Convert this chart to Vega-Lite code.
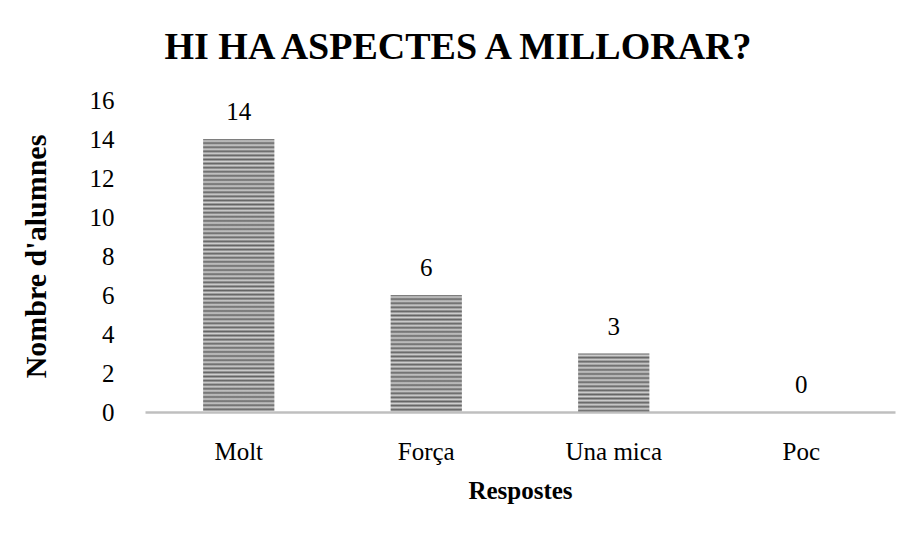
{
  "$schema": "https://vega.github.io/schema/vega-lite/v6.json",
  "width": 750,
  "height": 312,
  "autosize": {"type": "none"},
  "padding": {"left": 145, "top": 100, "right": 20, "bottom": 127},
  "background": "white",
  "config": {
    "view": {"stroke": null},
    "font": "Liberation Serif"
  },
  "title": {
    "text": "HI HA ASPECTES A MILLORAR?",
    "font": "Liberation Serif",
    "fontSize": 38,
    "fontWeight": "bold",
    "color": "#000000",
    "anchor": "middle",
    "frame": "bounds",
    "offset": 21
  },
  "data": {
    "values": [
      {"resposta": "Molt", "alumnes": 14},
      {"resposta": "Força", "alumnes": 6},
      {"resposta": "Una mica", "alumnes": 3},
      {"resposta": "Poc", "alumnes": 0}
    ]
  },
  "encoding": {
    "x": {
      "field": "resposta",
      "type": "nominal",
      "sort": null,
      "scale": {"paddingInner": 0.62, "paddingOuter": 0.31},
      "axis": {
        "title": "Respostes",
        "titleFont": "Liberation Serif",
        "titleFontSize": 25,
        "titleFontWeight": "bold",
        "titleColor": "#000000",
        "titlePadding": 14,
        "labelAngle": 0,
        "labelFontSize": 25,
        "labelColor": "#000000",
        "labelPadding": 27,
        "ticks": false,
        "domainColor": "#bfbfbf",
        "domainWidth": 2.5
      }
    },
    "y": {
      "field": "alumnes",
      "type": "quantitative",
      "scale": {"domain": [0, 16]},
      "axis": {
        "title": "Nombre d'alumnes",
        "titleFont": "Liberation Serif",
        "titleFontSize": 30,
        "titleFontWeight": "bold",
        "titleColor": "#000000",
        "titlePadding": 38,
        "values": [0, 2, 4, 6, 8, 10, 12, 14, 16],
        "labelFontSize": 25,
        "labelColor": "#000000",
        "labelPadding": 31,
        "ticks": false,
        "domain": false,
        "grid": false
      }
    }
  },
  "layer": [
    {
      "transform": [{"filter": "datum.resposta === 'Molt'"}],
      "mark": {
        "type": "bar",
        "fill": {
          "gradient": "linear",
          "x1": 0, "y1": 0, "x2": 0, "y2": 1,
          "stops": [
            {"offset": 0, "color": "#646464"}, {"offset": 0.0075, "color": "#cfcfcf"}, {"offset": 0.015, "color": "#646464"}, {"offset": 0.0225, "color": "#cfcfcf"},
            {"offset": 0.03, "color": "#646464"}, {"offset": 0.0375, "color": "#cfcfcf"}, {"offset": 0.045, "color": "#646464"}, {"offset": 0.0525, "color": "#cfcfcf"},
            {"offset": 0.06, "color": "#646464"}, {"offset": 0.0675, "color": "#cfcfcf"}, {"offset": 0.075, "color": "#646464"}, {"offset": 0.0825, "color": "#cfcfcf"},
            {"offset": 0.09, "color": "#646464"}, {"offset": 0.0975, "color": "#cfcfcf"}, {"offset": 0.105, "color": "#646464"}, {"offset": 0.1125, "color": "#cfcfcf"},
            {"offset": 0.12, "color": "#646464"}, {"offset": 0.1275, "color": "#cfcfcf"}, {"offset": 0.135, "color": "#646464"}, {"offset": 0.1425, "color": "#cfcfcf"},
            {"offset": 0.15, "color": "#646464"}, {"offset": 0.1575, "color": "#cfcfcf"}, {"offset": 0.165, "color": "#646464"}, {"offset": 0.1725, "color": "#cfcfcf"},
            {"offset": 0.18, "color": "#646464"}, {"offset": 0.1875, "color": "#cfcfcf"}, {"offset": 0.195, "color": "#646464"}, {"offset": 0.2025, "color": "#cfcfcf"},
            {"offset": 0.21, "color": "#646464"}, {"offset": 0.2175, "color": "#cfcfcf"}, {"offset": 0.225, "color": "#646464"}, {"offset": 0.2325, "color": "#cfcfcf"},
            {"offset": 0.24, "color": "#646464"}, {"offset": 0.2475, "color": "#cfcfcf"}, {"offset": 0.255, "color": "#646464"}, {"offset": 0.2625, "color": "#cfcfcf"},
            {"offset": 0.27, "color": "#646464"}, {"offset": 0.2775, "color": "#cfcfcf"}, {"offset": 0.285, "color": "#646464"}, {"offset": 0.2925, "color": "#cfcfcf"},
            {"offset": 0.3, "color": "#646464"}, {"offset": 0.3075, "color": "#cfcfcf"}, {"offset": 0.315, "color": "#646464"}, {"offset": 0.3225, "color": "#cfcfcf"},
            {"offset": 0.33, "color": "#646464"}, {"offset": 0.3375, "color": "#cfcfcf"}, {"offset": 0.345, "color": "#646464"}, {"offset": 0.3525, "color": "#cfcfcf"},
            {"offset": 0.36, "color": "#646464"}, {"offset": 0.3675, "color": "#cfcfcf"}, {"offset": 0.375, "color": "#646464"}, {"offset": 0.3825, "color": "#cfcfcf"},
            {"offset": 0.39, "color": "#646464"}, {"offset": 0.3975, "color": "#cfcfcf"}, {"offset": 0.405, "color": "#646464"}, {"offset": 0.4125, "color": "#cfcfcf"},
            {"offset": 0.42, "color": "#646464"}, {"offset": 0.4275, "color": "#cfcfcf"}, {"offset": 0.435, "color": "#646464"}, {"offset": 0.4425, "color": "#cfcfcf"},
            {"offset": 0.45, "color": "#646464"}, {"offset": 0.4575, "color": "#cfcfcf"}, {"offset": 0.465, "color": "#646464"}, {"offset": 0.4725, "color": "#cfcfcf"},
            {"offset": 0.48, "color": "#646464"}, {"offset": 0.4875, "color": "#cfcfcf"}, {"offset": 0.495, "color": "#646464"}, {"offset": 0.5025, "color": "#cfcfcf"},
            {"offset": 0.51, "color": "#646464"}, {"offset": 0.5175, "color": "#cfcfcf"}, {"offset": 0.525, "color": "#646464"}, {"offset": 0.5325, "color": "#cfcfcf"},
            {"offset": 0.54, "color": "#646464"}, {"offset": 0.5475, "color": "#cfcfcf"}, {"offset": 0.555, "color": "#646464"}, {"offset": 0.5625, "color": "#cfcfcf"},
            {"offset": 0.57, "color": "#646464"}, {"offset": 0.5775, "color": "#cfcfcf"}, {"offset": 0.585, "color": "#646464"}, {"offset": 0.5925, "color": "#cfcfcf"},
            {"offset": 0.6, "color": "#646464"}, {"offset": 0.6075, "color": "#cfcfcf"}, {"offset": 0.615, "color": "#646464"}, {"offset": 0.6225, "color": "#cfcfcf"},
            {"offset": 0.63, "color": "#646464"}, {"offset": 0.6375, "color": "#cfcfcf"}, {"offset": 0.645, "color": "#646464"}, {"offset": 0.6525, "color": "#cfcfcf"},
            {"offset": 0.66, "color": "#646464"}, {"offset": 0.6675, "color": "#cfcfcf"}, {"offset": 0.675, "color": "#646464"}, {"offset": 0.6825, "color": "#cfcfcf"},
            {"offset": 0.69, "color": "#646464"}, {"offset": 0.6975, "color": "#cfcfcf"}, {"offset": 0.705, "color": "#646464"}, {"offset": 0.7125, "color": "#cfcfcf"},
            {"offset": 0.72, "color": "#646464"}, {"offset": 0.7275, "color": "#cfcfcf"}, {"offset": 0.735, "color": "#646464"}, {"offset": 0.7425, "color": "#cfcfcf"},
            {"offset": 0.75, "color": "#646464"}, {"offset": 0.7575, "color": "#cfcfcf"}, {"offset": 0.765, "color": "#646464"}, {"offset": 0.7725, "color": "#cfcfcf"},
            {"offset": 0.78, "color": "#646464"}, {"offset": 0.7875, "color": "#cfcfcf"}, {"offset": 0.795, "color": "#646464"}, {"offset": 0.8025, "color": "#cfcfcf"},
            {"offset": 0.81, "color": "#646464"}, {"offset": 0.8175, "color": "#cfcfcf"}, {"offset": 0.825, "color": "#646464"}, {"offset": 0.8325, "color": "#cfcfcf"},
            {"offset": 0.84, "color": "#646464"}, {"offset": 0.8475, "color": "#cfcfcf"}, {"offset": 0.855, "color": "#646464"}, {"offset": 0.8625, "color": "#cfcfcf"},
            {"offset": 0.87, "color": "#646464"}, {"offset": 0.8775, "color": "#cfcfcf"}, {"offset": 0.885, "color": "#646464"}, {"offset": 0.8925, "color": "#cfcfcf"},
            {"offset": 0.9, "color": "#646464"}, {"offset": 0.9075, "color": "#cfcfcf"}, {"offset": 0.915, "color": "#646464"}, {"offset": 0.9225, "color": "#cfcfcf"},
            {"offset": 0.93, "color": "#646464"}, {"offset": 0.9375, "color": "#cfcfcf"}, {"offset": 0.945, "color": "#646464"}, {"offset": 0.9525, "color": "#cfcfcf"},
            {"offset": 0.96, "color": "#646464"}, {"offset": 0.9675, "color": "#cfcfcf"}, {"offset": 0.975, "color": "#646464"}, {"offset": 0.9825, "color": "#cfcfcf"},
            {"offset": 0.99, "color": "#646464"}, {"offset": 0.9975, "color": "#cfcfcf"}, {"offset": 1, "color": "#cfcfcf"}
          ]
        }
      }
    },
    {
      "transform": [{"filter": "datum.resposta === 'Força'"}],
      "mark": {
        "type": "bar",
        "fill": {
          "gradient": "linear",
          "x1": 0, "y1": 0, "x2": 0, "y2": 1,
          "stops": [
            {"offset": 0, "color": "#646464"}, {"offset": 0.0175, "color": "#cfcfcf"}, {"offset": 0.035, "color": "#646464"}, {"offset": 0.0525, "color": "#cfcfcf"},
            {"offset": 0.07, "color": "#646464"}, {"offset": 0.0875, "color": "#cfcfcf"}, {"offset": 0.105, "color": "#646464"}, {"offset": 0.1225, "color": "#cfcfcf"},
            {"offset": 0.14, "color": "#646464"}, {"offset": 0.1575, "color": "#cfcfcf"}, {"offset": 0.175, "color": "#646464"}, {"offset": 0.1925, "color": "#cfcfcf"},
            {"offset": 0.21, "color": "#646464"}, {"offset": 0.2275, "color": "#cfcfcf"}, {"offset": 0.245, "color": "#646464"}, {"offset": 0.2625, "color": "#cfcfcf"},
            {"offset": 0.28, "color": "#646464"}, {"offset": 0.2975, "color": "#cfcfcf"}, {"offset": 0.315, "color": "#646464"}, {"offset": 0.3325, "color": "#cfcfcf"},
            {"offset": 0.35, "color": "#646464"}, {"offset": 0.3675, "color": "#cfcfcf"}, {"offset": 0.385, "color": "#646464"}, {"offset": 0.4025, "color": "#cfcfcf"},
            {"offset": 0.42, "color": "#646464"}, {"offset": 0.4375, "color": "#cfcfcf"}, {"offset": 0.455, "color": "#646464"}, {"offset": 0.4725, "color": "#cfcfcf"},
            {"offset": 0.49, "color": "#646464"}, {"offset": 0.5075, "color": "#cfcfcf"}, {"offset": 0.525, "color": "#646464"}, {"offset": 0.5425, "color": "#cfcfcf"},
            {"offset": 0.56, "color": "#646464"}, {"offset": 0.5775, "color": "#cfcfcf"}, {"offset": 0.595, "color": "#646464"}, {"offset": 0.6125, "color": "#cfcfcf"},
            {"offset": 0.63, "color": "#646464"}, {"offset": 0.6475, "color": "#cfcfcf"}, {"offset": 0.665, "color": "#646464"}, {"offset": 0.6825, "color": "#cfcfcf"},
            {"offset": 0.7, "color": "#646464"}, {"offset": 0.7175, "color": "#cfcfcf"}, {"offset": 0.735, "color": "#646464"}, {"offset": 0.7525, "color": "#cfcfcf"},
            {"offset": 0.77, "color": "#646464"}, {"offset": 0.7875, "color": "#cfcfcf"}, {"offset": 0.805, "color": "#646464"}, {"offset": 0.8225, "color": "#cfcfcf"},
            {"offset": 0.84, "color": "#646464"}, {"offset": 0.8575, "color": "#cfcfcf"}, {"offset": 0.875, "color": "#646464"}, {"offset": 0.8925, "color": "#cfcfcf"},
            {"offset": 0.91, "color": "#646464"}, {"offset": 0.9275, "color": "#cfcfcf"}, {"offset": 0.945, "color": "#646464"}, {"offset": 0.9625, "color": "#cfcfcf"},
            {"offset": 0.98, "color": "#646464"}, {"offset": 0.9975, "color": "#cfcfcf"}, {"offset": 1, "color": "#cfcfcf"}
          ]
        }
      }
    },
    {
      "transform": [{"filter": "datum.resposta === 'Una mica'"}],
      "mark": {
        "type": "bar",
        "fill": {
          "gradient": "linear",
          "x1": 0, "y1": 0, "x2": 0, "y2": 1,
          "stops": [
            {"offset": 0, "color": "#646464"}, {"offset": 0.035, "color": "#cfcfcf"}, {"offset": 0.07, "color": "#646464"}, {"offset": 0.105, "color": "#cfcfcf"},
            {"offset": 0.14, "color": "#646464"}, {"offset": 0.175, "color": "#cfcfcf"}, {"offset": 0.21, "color": "#646464"}, {"offset": 0.245, "color": "#cfcfcf"},
            {"offset": 0.28, "color": "#646464"}, {"offset": 0.315, "color": "#cfcfcf"}, {"offset": 0.35, "color": "#646464"}, {"offset": 0.385, "color": "#cfcfcf"},
            {"offset": 0.42, "color": "#646464"}, {"offset": 0.455, "color": "#cfcfcf"}, {"offset": 0.49, "color": "#646464"}, {"offset": 0.525, "color": "#cfcfcf"},
            {"offset": 0.56, "color": "#646464"}, {"offset": 0.595, "color": "#cfcfcf"}, {"offset": 0.63, "color": "#646464"}, {"offset": 0.665, "color": "#cfcfcf"},
            {"offset": 0.7, "color": "#646464"}, {"offset": 0.735, "color": "#cfcfcf"}, {"offset": 0.77, "color": "#646464"}, {"offset": 0.805, "color": "#cfcfcf"},
            {"offset": 0.84, "color": "#646464"}, {"offset": 0.875, "color": "#cfcfcf"}, {"offset": 0.91, "color": "#646464"}, {"offset": 0.945, "color": "#cfcfcf"},
            {"offset": 0.98, "color": "#646464"}, {"offset": 1, "color": "#cfcfcf"}
          ]
        }
      }
    },
    {
      "mark": {"type": "text", "dy": -27, "fontSize": 25, "color": "#000000", "font": "Liberation Serif"},
      "encoding": {"text": {"field": "alumnes", "type": "quantitative"}}
    }
  ]
}
